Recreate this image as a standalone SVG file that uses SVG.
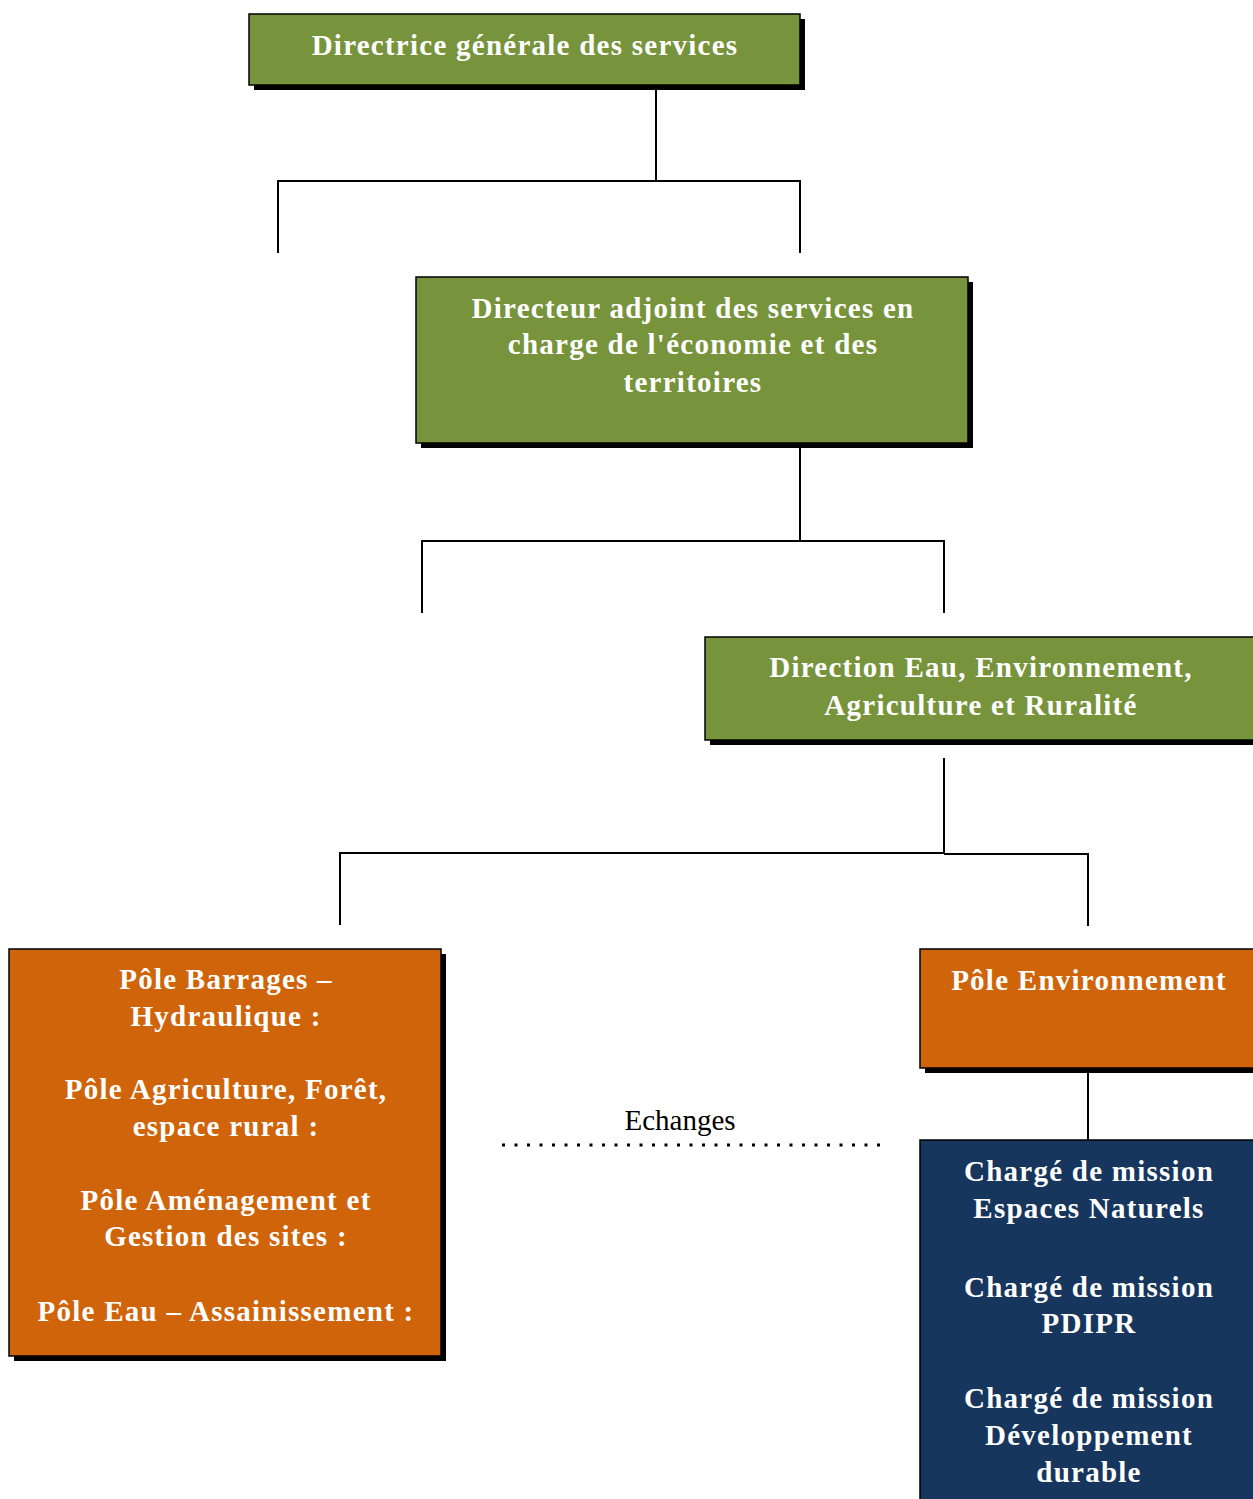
<svg xmlns="http://www.w3.org/2000/svg" width="1253" height="1499" viewBox="0 0 1253 1499">
<style>
.box{stroke:#000;stroke-width:1.5}
.green{fill:#77933C}
.orange{fill:#D0640A}
.navy{fill:#17365D}
.shadow{fill:#000}
.t{font-family:"Liberation Serif",serif;font-weight:bold;font-size:29px;letter-spacing:1.25px;fill:#fff;text-anchor:middle}
.lbl{font-family:"Liberation Serif",serif;font-size:29px;fill:#000;text-anchor:middle}
.c{fill:none;stroke:#000;stroke-width:2}
</style>
<rect width="1253" height="1499" fill="#fff"/>
<g id="connectors">
<path class="c" d="M656 85V181M278 253V181H800V253"/>
<path class="c" d="M800 448V541M422 613V541H944V613"/>
<path class="c" d="M944 758V853M340 925V853H944M944 854H1088V926"/>
<path class="c" d="M1088 1073V1140"/>
<path d="M502 1145H880" fill="none" stroke="#000" stroke-width="3" stroke-dasharray="3 9.5"/>
<text class="lbl" x="680" y="1130">Echanges</text>
</g>
<g id="n1">
<rect class="shadow" x="254" y="19" width="551" height="71"/>
<rect class="box green" x="249" y="14" width="551" height="71"/>
<text class="t" x="525" y="55">Directrice générale des services</text>
</g>
<g id="n2">
<rect class="shadow" x="421" y="282" width="552" height="166"/>
<rect class="box green" x="416" y="277" width="552" height="166"/>
<text class="t" x="693" y="318">Directeur adjoint des services en</text>
<text class="t" x="693" y="354">charge de l'économie et des</text>
<text class="t" x="693" y="392">territoires</text>
</g>
<g id="n3">
<rect class="shadow" x="710" y="642" width="560" height="103"/>
<rect class="box green" x="705" y="637" width="560" height="103"/>
<text class="t" x="981" y="677">Direction Eau, Environnement,</text>
<text class="t" x="981" y="715">Agriculture et Ruralité</text>
</g>
<g id="n4">
<rect class="shadow" x="14" y="954" width="432" height="407"/>
<rect class="box orange" x="9" y="949" width="432" height="407"/>
<text class="t" x="226" y="989">Pôle Barrages –</text>
<text class="t" x="226" y="1026">Hydraulique :</text>
<text class="t" x="226" y="1099">Pôle Agriculture, Forêt,</text>
<text class="t" x="226" y="1136">espace rural :</text>
<text class="t" x="226" y="1210">Pôle Aménagement et</text>
<text class="t" x="226" y="1246">Gestion des sites :</text>
<text class="t" x="226" y="1321">Pôle Eau – Assainissement :</text>
</g>
<g id="n5">
<rect class="shadow" x="925" y="954" width="340" height="119"/>
<rect class="box orange" x="920" y="949" width="340" height="119"/>
<text class="t" x="1089" y="990">Pôle Environnement</text>
</g>
<g id="n6">
<rect class="box navy" x="920" y="1140" width="340" height="370"/>
<text class="t" x="1089" y="1181">Chargé de mission</text>
<text class="t" x="1089" y="1218">Espaces Naturels</text>
<text class="t" x="1089" y="1297">Chargé de mission</text>
<text class="t" x="1089" y="1333">PDIPR</text>
<text class="t" x="1089" y="1408">Chargé de mission</text>
<text class="t" x="1089" y="1445">Développement</text>
<text class="t" x="1089" y="1482">durable</text>
</g>
</svg>
